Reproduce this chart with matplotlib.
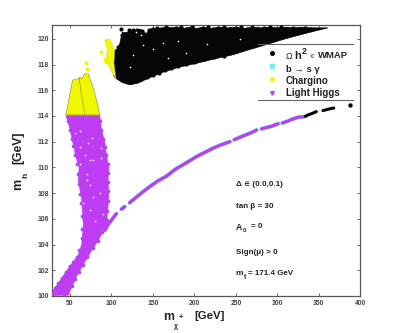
import matplotlib
matplotlib.use("Agg")
import matplotlib.pyplot as plt

plt.rcParams['font.family'] = ['Liberation Sans', 'DejaVu Sans']

BLACK, CYAN, YELLOW, PURPLE = '#060606', '#70F0E8', '#F0F800', '#BE3DF2'
INK = '#222222'

# WMAP region outline
wmap_x = [104, 107, 110, 113, 119, 125, 130, 135, 142, 146, 150, 158, 165, 172, 180, 188, 195, 203, 210,
          220, 230, 240, 250, 260, 270, 280, 290, 300, 310, 320, 330, 340, 350, 361,
          345, 327, 307, 287, 266, 246, 225, 203, 182, 162, 145, 132, 122, 113, 106, 103, 102]
wmap_y = [119.1, 119.2, 119.6, 120.5, 120.5, 120.7, 120.7, 120.75, 120.4, 120.75, 120.8, 120.8, 120.9, 120.85, 120.9, 120.8, 120.9, 120.8, 120.9,
          120.8, 120.9, 120.85, 120.9, 120.8, 120.9, 120.85, 120.9, 120.85, 120.9, 120.85, 120.9, 120.85, 120.85, 120.85,
          120.6, 120.3, 119.95, 119.55, 119.15, 118.75, 118.45, 118.1, 117.8, 117.4, 116.95, 116.55, 116.42, 116.6, 116.9, 117.1, 118.0]
# Ragged WMAP points along the rim
wmap_rim_x = [112, 113, 116, 121, 126, 131, 137, 145, 150, 155, 160, 166, 172, 178, 184, 190, 197, 203, 210, 216, 223, 229, 236, 243, 250, 256, 263, 270, 277, 284, 291, 298, 305, 312, 319, 326, 333, 340,
              108, 106, 107, 109, 113, 118, 124, 130, 136, 143, 150, 157, 164, 172, 180, 190, 200, 212, 224, 236]
wmap_rim_y = [120.75, 120.3, 119.9, 120.7, 120.65, 120.7, 120.6, 120.7, 120.75, 120.85, 120.8, 120.9, 120.75, 120.85, 120.9, 120.75, 120.9, 120.7, 120.85, 120.9, 120.75, 120.85, 120.9, 120.8, 120.85, 120.9, 120.75, 120.9, 120.8, 120.85, 120.9, 120.8, 120.9, 120.8, 120.85, 120.8, 120.85, 120.8,
              119.4, 118.7, 117.9, 117.3, 116.95, 116.75, 116.65, 116.7, 116.85, 117.05, 117.2, 117.35, 117.55, 117.7, 117.85, 118.05, 118.2, 118.4, 118.55, 118.7]
wmap_hole_x = [126, 138, 162, 180, 130, 168, 122, 136, 150, 190, 215, 255]
wmap_hole_y = [118.75, 119.5, 119.65, 119.8, 120.5, 118.5, 117.8, 120.3, 119.2, 118.9, 119.6, 120.0]

# Thin WMAP tail on the lower branch
tail_x = [334, 337, 340, 343, 347, 355, 358, 361, 365, 368]
tail_y = [113.98, 114.08, 114.15, 114.22, 114.34, 114.42, 114.47, 114.52, 114.58, 114.62]
tail_single_x = [387]
tail_single_y = [114.86]

# Chargino-excluded outlines
bell_x = [45, 49, 53, 55, 57, 59, 62, 64, 68, 72, 77, 82, 86]
bell_y = [114.08, 115.4, 116.75, 116.85, 116.8, 116.85, 117.0, 116.9, 117.27, 117.27, 116.4, 115.25, 114.08]
wedge_x = [92, 98, 100, 104, 103, 105.4, 100, 96, 94, 96, 93]
wedge_y = [119.9, 119.97, 119.66, 119.1, 118.1, 116.93, 117.45, 118.1, 118.75, 119.27, 119.66]
stray_x = [87, 93, 69, 70, 92, 95, 97]
stray_y = [119.0, 118.2, 118.1, 117.66, 118.4, 119.5, 119.8]
seam_x = [61, 64, 68]
seam_y = [117.0, 115.6, 114.1]

# Light-Higgs-excluded band
band_x = [45, 86, 88, 92, 94, 97, 96, 97, 96, 95, 95, 90, 86, 74, 58, 48, 28, 30, 48, 60, 64, 66, 65, 64, 60, 61, 57, 55, 52, 50]
band_y = [114.05, 114.05, 113.0, 112.0, 111.0, 110.0, 109.0, 108.0, 107.0, 106.2, 105.65, 105.1, 104.5, 103.3, 101.5, 100.07, 100.0, 100.46, 102.15, 103.2, 104.0, 105.5, 106.5, 107.5, 109.0, 110.0, 110.8, 111.5, 112.3, 113.0]
band_rim_x = [48, 50, 52, 54, 56, 58, 60, 61, 62, 63, 65, 65, 64, 61, 58, 54, 50, 45, 40, 36, 32, 86, 88, 90, 92, 94, 96, 96, 96, 96, 96, 95, 95, 89, 84, 78, 71, 66, 61, 56, 52, 47, 43]
band_rim_y = [113.6, 112.9, 112.2, 111.7, 111.0, 110.3, 109.5, 108.7, 107.9, 107.2, 106.2, 105.2, 104.5, 103.6, 103.0, 102.65, 102.3, 101.85, 101.4, 101.0, 100.65, 113.6, 112.9, 112.2, 111.6, 111.0, 110.3, 109.6, 108.9, 108.2, 107.4, 106.6, 105.9, 105.0, 104.3, 103.7, 103.0, 102.4, 101.85, 101.3, 100.75, 100.2, 100.15]
band_hole_x = [56, 62, 76, 62, 72, 88, 78, 74, 68, 62, 88, 70, 74, 66, 78, 86, 74, 90, 80, 70]
band_hole_y = [112.65, 112.8, 112.26, 111.6, 111.87, 111.5, 110.6, 110.6, 110.96, 110.3, 110.7, 109.5, 108.6, 107.2, 107.7, 108.0, 106.7, 106.4, 105.8, 109.0]

# Lower branch: segments separated by small gaps
branch_segments_x = [[92, 97, 106], [112, 116], [122, 126, 136, 146, 156, 166, 177, 190, 202.6, 212, 222.7, 232, 242.8],
                     [248, 257, 266.8, 275], [281, 293, 301], [306, 311, 318, 325, 333]]
branch_segments_y = [[105.1, 105.65, 106.4], [106.75, 106.95], [107.25, 107.47, 108.0, 108.5, 108.95, 109.3, 109.85, 110.35, 110.84, 111.15, 111.5, 111.75, 112.0],
                     [112.15, 112.4, 112.65, 112.9], [113.0, 113.2, 113.4], [113.45, 113.56, 113.75, 113.9, 113.95]]

x_ticks = [50, 100, 150, 200, 250, 300, 350, 400]
y_ticks = [100, 102, 104, 106, 108, 110, 112, 114, 116, 118, 120]
legend_labels = ['b \u2192 s \u03b3', 'Chargino', 'Light Higgs']
wmap_text = ['\u03a9', 'h', '2', '\u220a', 'WMAP']
notes = ['\u0394 \u220a (0.0,0.1)', 'tan \u03b2 = 30', 'A', 'Sign(\u03bc) > 0', 'm']

W, H = 398, 333
fig = plt.figure(figsize=(W / 100, H / 100), dpi=100)
ax = fig.add_axes([51.7 / W, 1 - 296 / H, (360.3 - 51.7) / W, (296 - 25.3) / H])
ax.set_xlim(28, 400)
ax.set_ylim(100, 121.05)

# cyan halo, then purple
ax.scatter(band_rim_x, band_rim_y, s=9, c=CYAN, lw=0, zorder=2)
ax.fill(band_x, band_y, facecolor=PURPLE, edgecolor=PURPLE, lw=0.3, zorder=3)
ax.scatter(band_rim_x, band_rim_y, s=6, c=PURPLE, lw=0, zorder=3)
for sx, sy in zip(branch_segments_x, branch_segments_y):
    ax.plot(sx, sy, color=CYAN, lw=3.0, solid_capstyle='round', zorder=2)
    ax.plot(sx, sy, color=PURPLE, lw=2.3, solid_capstyle='round', zorder=3)
ax.scatter(band_hole_x, band_hole_y, s=1.6, c='#E8F8F8', lw=0, zorder=4)

# yellow
ax.fill(bell_x, bell_y, facecolor=YELLOW, edgecolor='#77772A', lw=0.35, zorder=3)
ax.fill(wedge_x, wedge_y, facecolor=YELLOW, edgecolor='#C0C030', lw=0.3, zorder=5)
ax.scatter(stray_x, stray_y, s=9, c=YELLOW, lw=0, zorder=5)
ax.plot(seam_x, seam_y, color='#77772A', lw=0.35, zorder=4)

# black
ax.fill(wmap_x, wmap_y, facecolor=BLACK, edgecolor=BLACK, lw=0.5, zorder=4)
ax.scatter(wmap_rim_x, wmap_rim_y, s=9, c=BLACK, lw=0, zorder=4)
ax.scatter(wmap_hole_x, wmap_hole_y, s=1.4, c='white', lw=0, zorder=5)
ax.plot(tail_x[:5], tail_y[:5], color=BLACK, lw=2.2, solid_capstyle='round', zorder=4)
ax.plot(tail_x[5:], tail_y[5:], color=BLACK, lw=2.2, solid_capstyle='round', zorder=4)
ax.scatter(tail_single_x, tail_single_y, s=10, c=BLACK, lw=0, zorder=4)

ax.set_xticks(x_ticks)
ax.set_yticks(y_ticks)
ax.tick_params(direction='in', length=2.2, width=0.6, color='#555555', top=True, right=True,
               labelsize=4.9, labelcolor='#444444', pad=2)
ax.tick_params(axis='x', pad=3)
ax.tick_params(labelright=False, labeltop=False)
for lab in ax.get_xticklabels() + ax.get_yticklabels():
    lab.set_fontweight('bold')
for s in ax.spines.values():
    s.set_color('#555555')
    s.set_linewidth(0.9)

def ftext(px, py, s, fontsize=7, **kw):
    fig.text(px / W, 1 - py / H, s, color=INK, fontweight=kw.pop('weight', 'bold'), va='center', fontsize=fontsize, **kw)

def fline(x0, x1, py):
    fig.add_artist(plt.Line2D([x0 / W, x1 / W], [1 - py / H] * 2, color='#666666', lw=0.8, zorder=6))

fline(258, 353, 44.3)
fline(258, 353, 100.3)

leg_y = [52.7, 66, 79.3, 92.7]
leg_marker = ['o', 's', 'o', 'v']
leg_col = [BLACK, CYAN, YELLOW, PURPLE]
for py, m, c in zip(leg_y, leg_marker, leg_col):
    fig.add_artist(plt.Line2D([271.7 / W], [1 - py / H], marker=m, ms=2.6, color=c, mec=c, lw=0))

# legend text
ftext(285.5, 56.5, wmap_text[0], fontsize=6.5, weight='normal')
ftext(294.5, 56, wmap_text[1], fontsize=8)
ftext(301.5, 51, wmap_text[2], fontsize=6.5)
ftext(309, 57, wmap_text[3], fontsize=4.5, weight='normal')
ftext(317.5, 56, wmap_text[4], fontsize=6.8)
ftext(285.5, 69, legend_labels[0], fontsize=6.8)
ftext(285.5, 80.7, legend_labels[1], fontsize=7)
ftext(285.5, 93.3, legend_labels[2], fontsize=7)

# notes
ftext(235.7, 185, notes[0], fontsize=5.8)
ftext(235.7, 206.7, notes[1], fontsize=5.8)
ftext(235.7, 227, notes[2], fontsize=6.3)
ftext(242.5, 231, '0', fontsize=4.5)
ftext(251, 227, '= 0', fontsize=5.8)
ftext(235.7, 253, notes[3], fontsize=5.8)
ftext(235.7, 273.5, notes[4], fontsize=6)
ftext(244, 277.5, 't', fontsize=4.8)
ftext(248.5, 273.5, '= 171.4 GeV', fontsize=5.8)

# axis titles
ftext(163, 317, 'm', fontsize=8.8)
ftext(173.5, 326, '\u03c7', fontsize=5)
ftext(178.5, 318, '+', fontsize=5.5)
ftext(194, 316, '[GeV]', fontsize=8.2)
ftext(18, 184, 'm', fontsize=9, rotation=90, ha='center')
ftext(26, 175, 'h', fontsize=6, rotation=90, ha='center')
ftext(18, 148, '[GeV]', fontsize=8.8, rotation=90, ha='center')

fig.savefig('out.png', dpi=100)
